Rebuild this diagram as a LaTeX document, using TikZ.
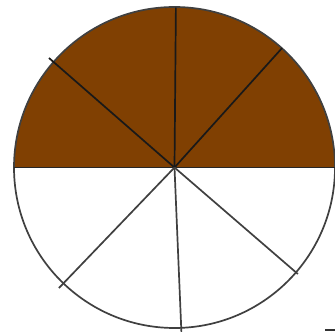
\documentclass[tikz,border=0pt]{standalone}
\usepackage{tikz}
\usetikzlibrary{calc}
\definecolor{piebrown}{RGB}{128,64,2}

\begin{document}
\begin{tikzpicture}[x=1pt,y=1pt]
     \useasboundingbox (0,0) rectangle (335,334);
     \fill[white] (0,0) rectangle (335,334);
     \coordinate (c) at (174.5,166.5);
     % brown upper half
     \fill[piebrown] ($(c)+(-160.5,0)$) arc[start angle=180,end angle=0,radius=160.5] -- cycle;
     \draw[black!75,line width=1.7pt] (c) circle[radius=160.5];
     \draw[black!85,line width=1.7pt] ($(c)+(-160.5,0)$) -- ($(c)+(160.5,0)$);
     % spokes
     \foreach \ang/\len in {89.5/160,48/160.7,138.9/166.6}
       \draw[black!90,line width=1.7pt] (c) -- ++(\ang:\len);
     \foreach \ang/\len in {-40.8/163,-87.6/164.6,-133.8/167}
       \draw[black!75,line width=1.7pt] (c) -- ++(\ang:\len);
     \draw[black!80,line width=1.8pt] (325,4) -- (335,4);
   \end{tikzpicture}
\end{document}
